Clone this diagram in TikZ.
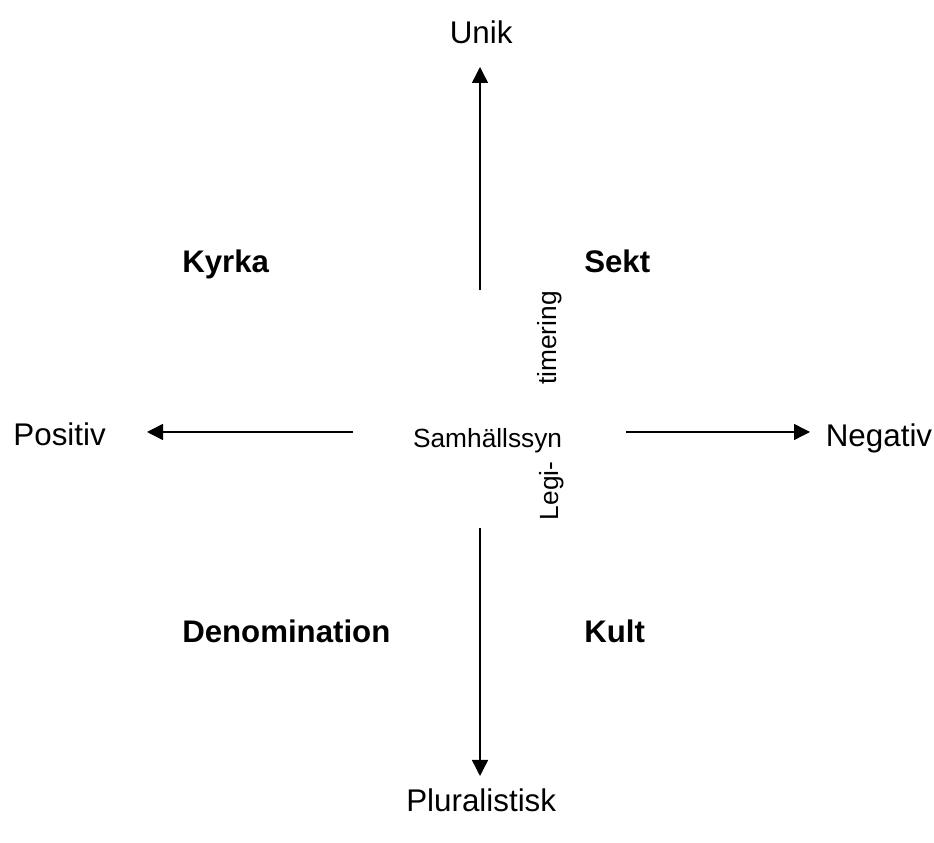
\documentclass[tikz,border=0pt]{standalone}
\usepackage{fontspec}
\setmainfont{Liberation Sans}
\usetikzlibrary{arrows.meta}

\begin{document}
\begin{tikzpicture}[every node/.style={inner sep=0pt},
  pole/.style={font=\fontsize{22.3}{27}\selectfont},
  typ/.style={font=\fontsize{22.2}{27}\selectfont\bfseries, anchor=base west},
  mid/.style={font=\fontsize{18.7}{22}\selectfont},
  axis/.style={line width=1pt, -{Triangle[length=0.4cm, width=0.4cm]}}]
  \useasboundingbox (0, 0) rectangle (23.35, 21.075);

  % ends of the axes
  \coordinate (up0) at (12.0, 13.825);
  \coordinate (up1) at (12.0, 19.4);
  \coordinate (dn0) at (12.0, 7.875);
  \coordinate (dn1) at (12.0, 1.675);
  \coordinate (lf0) at (8.825, 10.275);
  \coordinate (lf1) at (3.675, 10.275);
  \coordinate (rt0) at (15.65, 10.275);
  \coordinate (rt1) at (20.25, 10.275);

  \node[pole] at (12.03, 20.275) (unik) {Unik};
  \node[pole] at (12.03, 1.075) (plur) {Pluralistisk};
  \node[pole, anchor=base] at (1.49, 9.925) (pos) {Positiv};
  \node[pole, anchor=base] at (21.975, 9.9) (neg) {Negativ};

  \node[typ] at (4.55, 14.25) (kyrka) {Kyrka};
  \node[typ] at (14.6, 14.25) (sekt) {Sekt};
  \node[typ] at (4.55, 5.0) (denom) {Denomination};
  \node[typ] at (14.6, 5.0) (kult) {Kult};

  \node[mid] at (12.19, 10.05) (syn) {Samhällssyn};
  \node[mid, rotate=90] at (13.75, 12.625) (tim) {timering};
  \node[mid, rotate=90] at (13.8, 8.8) (legi) {Legi-};

  \draw[axis] (up0) -- (up1);
  \draw[axis] (dn0) -- (dn1);
  \draw[axis] (lf0) -- (lf1);
  \draw[axis] (rt0) -- (rt1);
\end{tikzpicture}
\end{document}
